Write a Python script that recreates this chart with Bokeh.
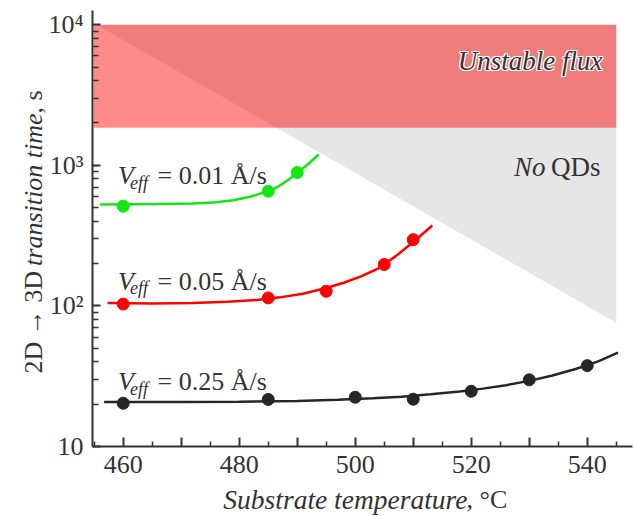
import math
from bokeh.plotting import figure
from bokeh.models import Label, FixedTicker, Range1d
from bokeh.embed import file_html
from bokeh.resources import INLINE

# ---------------- data ----------------
# measured points
green_T = [460, 485, 490]
green_V = [512, 654, 889]
red_T = [460, 485, 495, 505, 510]
red_V = [103, 114, 127, 197, 296]
black_T = [460, 485, 500, 510, 520, 530, 540]
black_V = [20.3, 21.6, 22.4, 21.7, 24.7, 29.8, 37.6]

# fitted curves
green_fit_T = [456, 466, 472, 476, 479, 482, 485, 486, 487, 488, 489, 490, 492, 493.7]
green_fit_V = [527, 530, 536, 547, 565, 600, 654, 683, 718, 765, 820, 885, 1030, 1194]
red_fit_T = [457.3, 465, 472, 478, 483, 487, 491, 495, 498, 501, 504, 507, 510, 513.3]
red_fit_V = [105, 104, 105, 107, 110, 115, 122, 134, 146, 162, 185, 226, 285, 373]
black_fit_T = [456.7, 470, 480, 490, 497, 503, 508, 513, 518, 522, 526, 530, 534, 538, 542, 545.3]
black_fit_V = [20.7, 20.7, 20.8, 21.1, 21.5, 22.0, 22.6, 23.5, 24.6, 25.8, 27.3, 29.3, 32.0, 35.6, 40.5, 46.5]

# regions
unstable_T = [454.9, 545.0]
unstable_V = [1850, 10000]
noqd_T = [455.4, 545.0, 545.0]
noqd_V = [10000, 10000, 76]

# ticks
x_major = [460, 470, 480, 490, 500, 510, 520, 530, 540]
x_minor = [455, 465, 475, 485, 495, 505, 515, 525, 535, 545]
x_labels = {460: "460", 470: "", 480: "480", 490: "", 500: "500", 510: "", 520: "520", 530: "", 540: "540"}
y_major = [10, 100, 1000, 10000]
y_minor = [m * d for d in (10, 100, 1000) for m in range(2, 10)]
y_labels = {10: "10", 100: "10\u00b2", 1000: "10\u00b3", 10000: "10\u2074"}

# ---------------- layout ----------------
W, H = 634, 516
X0, X1 = 454.7, 546.77          # temperature at the axis corner / at pixel FR
LOGTOP = 4.101
FL, FR, FT, FB = 92, 626, 10, 446   # axis box in pixels


def dx(px):
    return X0 + (px - FL) * (X1 - X0) / (FR - FL)


def dy(py):
    return 10 ** (1 + (FB - py) * (LOGTOP - 1) / (FB - FT))


FONT = "Liberation Serif"
TXT = "#333333"

p = figure(width=W, height=H, x_range=Range1d(dx(0), dx(W)), y_range=Range1d(dy(H), dy(0)),
           y_axis_type="log", output_backend="svg", toolbar_location=None,
           min_border_left=0, min_border_right=0, min_border_top=0, min_border_bottom=0)
p.outline_line_color = None
p.xgrid.visible = False
p.ygrid.visible = False
p.background_fill_color = "white"

# regions
p.patch(noqd_T, noqd_V, fill_color="#e6e6e6", line_color=None)
p.quad(left=unstable_T[0], right=unstable_T[1], bottom=unstable_V[0], top=unstable_V[1],
       fill_color="#ff0000", fill_alpha=0.46, line_color=None)

# curves and points
series = [
    (green_fit_T, green_fit_V, green_T, green_V, "#14e614"),
    (red_fit_T, red_fit_V, red_T, red_V, "#ff0000"),
    (black_fit_T, black_fit_V, black_T, black_V, "#262626"),
]
for fT, fV, T, V, col in series:
    p.line(fT, fV, line_color=col, line_width=2.5)
    p.scatter(T, V, size=12, fill_color=col, line_color=col)

# axes (drawn at fixed positions inside the full-canvas frame)
for ax in (p.xaxis[0], p.yaxis[0]):
    ax.axis_line_color = TXT
    ax.axis_line_width = 2
    ax.major_tick_line_color = TXT
    ax.minor_tick_line_color = TXT
    ax.major_tick_line_width = 2
    ax.minor_tick_line_width = 1.5
    ax.major_tick_out = 0
    ax.minor_tick_out = 0
    ax.major_label_text_font = FONT
    ax.major_label_text_font_size = "26px"
    ax.major_label_text_color = TXT

p.xaxis.fixed_location = dy(FB)
p.xaxis.bounds = (X0, dx(632))
p.xaxis.ticker = FixedTicker(ticks=x_major, minor_ticks=x_minor)
p.xaxis.major_label_overrides = x_labels
p.xaxis.major_tick_in = 9
p.xaxis.minor_tick_in = 5
p.xaxis.major_label_standoff = 9

p.yaxis.fixed_location = X0
p.yaxis.bounds = (dy(FB), dy(FT))
p.yaxis.ticker = FixedTicker(ticks=y_major, minor_ticks=y_minor)
p.yaxis.major_label_overrides = y_labels
p.yaxis.major_tick_in = 8
p.yaxis.minor_tick_in = 6
p.yaxis.major_label_standoff = 9


def lab(text, px, py, size=26, style="normal", align="left", baseline="alphabetic", angle=0.0,
        color=TXT, ox=0, oy=0):
    p.add_layout(Label(x=dx(px), y=dy(py), text=text, text_font=FONT, text_font_size=f"{size}px",
                       text_font_style=style, text_color=color, text_align=align,
                       text_baseline=baseline, angle=angle, x_offset=ox, y_offset=oy))


# V_eff labels
for rate, base in (("0.01", 175), ("0.05", 280.7), ("0.25", 381)):
    lab("V", 117.5, base, style="italic")
    lab("eff", 129.5, base + 7, size=18, style="italic")
    lab(f"= {rate} \u00c5/s", 157, base)

# region labels ("Unstable flux" with a thin white halo)
for ox, oy in ((-1, 0), (1, 0), (0, -1), (0, 1), (-1, -1), (1, 1), (-1, 1), (1, -1)):
    lab("Unstable flux", 602, 60, size=27, style="italic", align="right", color="white", ox=ox, oy=oy)
lab("Unstable flux", 602, 60, size=27, style="italic", align="right")
lab("QDs", 600, 166, size=27, align="right")
lab("No", 545, 166, size=27, style="italic", align="right")

# x axis title
lab("Substrate temperature", 467, 499, size=27.5, style="italic", align="right")
lab(", \u00b0C", 466, 499, size=26, align="left")

# y axis title (rotated)
A = math.pi / 2
lab("2D \u2192 3D", 33, 373, size=26, align="left", angle=A)
lab("transition time", 33, 113, size=26, style="italic", align="right", angle=A)
lab(", s", 33, 113, size=26, align="left", angle=A)

open("out.html", "w").write(file_html(p, INLINE))
